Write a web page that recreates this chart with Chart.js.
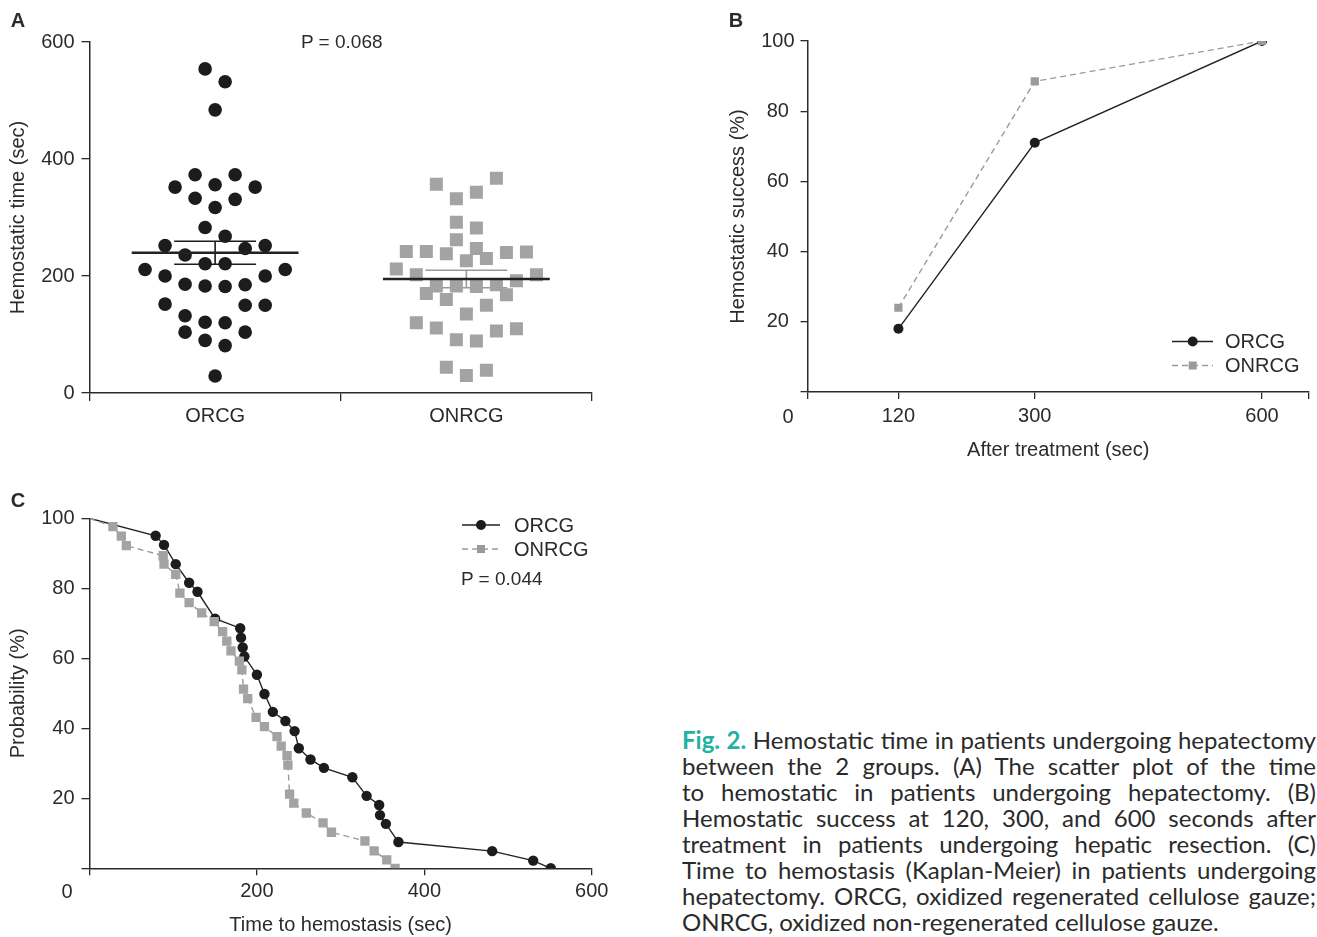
<!DOCTYPE html>
<html><head><meta charset="utf-8">
<script src="https://cdn.jsdelivr.net/npm/chart.js@4.4.1/dist/chart.umd.min.js"></script>
<style>
html,body{margin:0;padding:0;background:#fff;}
body{width:1317px;height:937px;position:relative;overflow:hidden;font-family:"Liberation Sans",Arial,sans-serif;color:#2b2b2b;}
canvas{position:absolute;}
.t{position:absolute;font-size:20px;line-height:24px;white-space:nowrap;transform:translateY(-50%);}
.c{transform:translate(-50%,-50%);}
.letter{font-weight:bold;}
svg{position:absolute;overflow:visible;}
.cap{position:absolute;left:682px;width:640px;height:26px;font-family:Lato,"Open Sans",sans-serif;font-size:22px;line-height:26px;color:#2a2a2a;white-space:nowrap;}
.cap span.w{display:inline-block;}
.fig{color:#22b2a3;font-weight:bold;}
</style></head><body>
<canvas id="cA" width="620" height="450" style="left:0;top:0"></canvas>
<canvas id="cB" width="597" height="470" style="left:720px;top:0"></canvas>
<canvas id="cC" width="620" height="457" style="left:0;top:480px"></canvas>

<div class="t c letter" style="left:18px;top:20px">A</div>
<div class="t c letter" style="left:736px;top:20px">B</div>
<div class="t c letter" style="left:18px;top:500px">C</div>
<div class="t" style="left:301px;top:42px;font-size:19px">P = 0.068</div>
<div class="t c" style="left:788px;top:416px">0</div>
<div class="t c" style="left:67px;top:891px">0</div>

<!-- legend B -->
<svg style="left:1165px;top:330px" width="60" height="50">
  <line x1="7" y1="11.5" x2="48" y2="11.5" stroke="#222" stroke-width="1.4"/>
  <circle cx="27.7" cy="11.5" r="5" fill="#1c1c1c"/>
  <line x1="7" y1="35.5" x2="48" y2="35.5" stroke="#9a9a9a" stroke-width="1.4" stroke-dasharray="6,4"/>
  <rect x="23.7" y="31.5" width="8" height="8" fill="#9a9a9a"/>
</svg>
<div class="t" style="left:1225px;top:341px">ORCG</div>
<div class="t" style="left:1225px;top:365px">ONRCG</div>

<!-- legend C -->
<svg style="left:455px;top:514px" width="60" height="50">
  <line x1="7" y1="11" x2="45" y2="11" stroke="#222" stroke-width="1.4"/>
  <circle cx="26" cy="11" r="5" fill="#1c1c1c"/>
  <line x1="7" y1="35" x2="45" y2="35" stroke="#9a9a9a" stroke-width="1.4" stroke-dasharray="6,4"/>
  <rect x="22" y="31" width="8" height="8" fill="#9a9a9a"/>
</svg>
<div class="t" style="left:514px;top:525px">ORCG</div>
<div class="t" style="left:514px;top:549px">ONRCG</div>
<div class="t" style="left:461px;top:579px;font-size:19px">P = 0.044</div>

<div id="caption"></div>

<script>
// ---------------- DATA ----------------
const groups = ['ORCG', 'ONRCG'];
// Panel A: hemostatic time (sec) per patient, and beeswarm column
const orcgTime = [554,532,484,373,373,352,356,352,333,331,317,283,268,252,252,247,236,221,221,211,211,200,200,186,183,182,185,152,150,150,132,121,120,104,104,90,81,29];
const orcgSlot = [-0.5,0.5,0,-1,1,-2,0,2,-1,1,0,-0.5,0.5,-2.5,2.5,1.5,-1.5,-0.5,0.5,-3.5,3.5,-2.5,2.5,-1.5,-0.5,0.5,1.5,-2.5,1.5,2.5,-1.5,-0.5,0.5,-1.5,1.5,-0.5,0.5,0];
const onrcgTime = [367,357,343,332,292,282,262,242,242,238,247,240,241,226,230,212,202,202,192,183,183,182,185,170,168,160,150,135,120,111,106,110,91,89,44,30,39];
const onrcgSlot = [1.5,-1.5,0.5,-0.5,-0.5,0.5,-0.5,-3,-2,-1,0.5,2,3,0,1,-3.5,-2.5,3.5,2.5,-1.5,-0.5,0.5,1.5,-2,2,-1,1,0,-2.5,-1.5,1.5,2.5,-0.5,0.5,-1,0,1];
const groupMean = [239.8, 194.9];
const groupSem = [19.6, 15.0];
const aTicksY = [0, 200, 400, 600];

// Panel B: hemostatic success (%)
const bTimes = [120, 300, 600];
const bOrcg = [18, 71, 100];
const bOnrcg = [24, 88.5, 100];
const bTicksY = [0, 20, 40, 60, 80, 100];

// Panel C: Kaplan-Meier
const kmOrcgT = [0,79,89,103,119,129,150,180,181,183,185,200,209,219,234,245,250,264,280,314,331,346,347,354,369,481,530,551];
const kmOrcgP = [100,95,92.4,86.9,81.6,79,71.3,68.6,65.9,63.1,60.5,55.3,49.8,44.7,42.1,39.2,34.3,31.1,28.7,26.0,20.7,18.1,15.2,12.7,7.5,4.9,2.2,0];
const kmOnrcgT = [0,28,38,44,88,89,103,108,119,134,149,159,164,169,179,182,184,189,199,209,224,229,236,237,239,244,259,279,289,329,340,355,365];
const kmOnrcgP = [100,97.6,94.9,92.2,89.3,86.9,84.0,78.6,75.9,73.0,70.5,67.6,64.9,62.1,59.2,56.7,51.2,48.5,43.1,40.5,37.6,34.9,32.2,29.5,21.2,18.6,15.8,13.0,10.3,7.8,5.0,2.4,0];
const cTicksX = [0, 200, 400, 600];
const cTicksY = [0, 20, 40, 60, 80, 100];

const captionLines = [
  'Hemostatic time in patients undergoing hepatectomy',
  'between the 2 groups. (A) The scatter plot of the time',
  'to hemostatic in patients undergoing hepatectomy. (B)',
  'Hemostatic success at 120, 300, and 600 seconds after',
  'treatment in patients undergoing hepatic resection. (C)',
  'Time to hemostasis (Kaplan-Meier) in patients undergoing',
  'hepatectomy. ORCG, oxidized regenerated cellulose gauze;',
  'ONRCG, oxidized non-regenerated cellulose gauze.'
];

// ---------------- STYLE ----------------
const INK = '#2b2b2b';
const DARK = '#1c1c1c';
const GREY = '#9a9a9a';
const SQ = '#a3a3a3';
const FONT = {family: '"Liberation Sans", Arial, sans-serif', size: 20, lineHeight: 1.2};
const SLOT = 0.0797;      // beeswarm column width in category units
const MEAN_HALF = 0.332;
const CAP_HALF = 0.163;

function setTicks(vals) { return s => { s.ticks = vals.map(v => ({value: v})); }; }
function gridOpts(len, colorFn) {
  return {drawOnChartArea: false, drawTicks: true, tickLength: len, color: colorFn || INK, lineWidth: 1.3};
}
const border = {display: true, color: INK, width: 1.5};
const base = {responsive: false, animation: false, events: [],
  plugins: {legend: {display: false}, tooltip: {enabled: false}}};

// ---------------- PANEL A ----------------
const dsA = [];
groups.forEach((g, gi) => {
  const c = gi + 0.5, m = groupMean[gi], s = groupSem[gi];
  const ec = gi === 0 ? DARK : GREY;
  dsA.push({data: [{x: c - MEAN_HALF, y: m}, {x: c + MEAN_HALF, y: m}], showLine: true,
    borderColor: '#222', borderWidth: 2.4, pointRadius: 0, order: 0});
  [[{x: c, y: m - s}, {x: c, y: m + s}],
   [{x: c - CAP_HALF, y: m + s}, {x: c + CAP_HALF, y: m + s}],
   [{x: c - CAP_HALF, y: m - s}, {x: c + CAP_HALF, y: m - s}]].forEach(seg => {
    dsA.push({data: seg, showLine: true, borderColor: ec, borderWidth: 1.6, pointRadius: 0, order: 3});
  });
});
dsA.push({label: 'ORCG', data: orcgTime.map((v, i) => ({x: 0.5 + orcgSlot[i] * SLOT, y: v})),
  pointStyle: 'circle', pointRadius: 6.8, backgroundColor: DARK, borderWidth: 0, order: 1});
dsA.push({label: 'ONRCG', data: onrcgTime.map((v, i) => ({x: 1.5 + onrcgSlot[i] * SLOT, y: v})),
  pointStyle: 'rect', pointRadius: 9.2, backgroundColor: SQ, borderWidth: 0, order: 2});

new Chart(document.getElementById('cA'), {
  type: 'scatter',
  data: {datasets: dsA},
  options: Object.assign({}, base, {
    layout: {padding: {left: 0, right: 28, top: 42, bottom: 0}},
    scales: {
      x: {type: 'linear', min: 0, max: 2,
        afterBuildTicks: setTicks([0, 0.5, 1, 1.5, 2]),
        ticks: {autoSkip: false, maxRotation: 0, font: FONT, color: INK, padding: 3,
          callback: v => (v % 1 === 0.5 ? groups[Math.floor(v)] : '')},
        grid: gridOpts(8, c => (c.tick && c.tick.value % 1 === 0.5) ? 'rgba(0,0,0,0)' : INK),
        border: border,
        afterFit: s => { s.height = 57; }},
      y: {min: 0, max: 600,
        afterBuildTicks: setTicks(aTicksY),
        ticks: {font: FONT, color: INK, padding: 7},
        grid: gridOpts(8),
        border: border,
        title: {display: true, text: 'Hemostatic time (sec)', font: FONT, color: INK, padding: {top: 6, bottom: 0}},
        afterFit: s => { s.width = 89.5; }}
    }
  })
});

// ---------------- PANEL B ----------------
new Chart(document.getElementById('cB'), {
  type: 'scatter',
  data: {datasets: [
    {label: 'ONRCG', data: bTimes.map((t, i) => ({x: t, y: bOnrcg[i]})), showLine: true,
      borderColor: GREY, borderWidth: 1.4, borderDash: [6, 4], pointStyle: 'rect', pointRadius: 5.8,
      backgroundColor: GREY, pointBorderWidth: 0, order: 0},
    {label: 'ORCG', data: bTimes.map((t, i) => ({x: t, y: bOrcg[i]})), showLine: true,
      borderColor: '#222', borderWidth: 1.4, pointStyle: 'circle', pointRadius: 5,
      backgroundColor: DARK, pointBorderWidth: 0, order: 1}
  ]},
  options: Object.assign({}, base, {
    layout: {padding: {left: 0, right: 8, top: 41, bottom: 0}},
    scales: {
      x: {type: 'linear', min: 0, max: 662,
        afterBuildTicks: setTicks([0].concat(bTimes, [662])),
        ticks: {autoSkip: false, maxRotation: 0, font: FONT, color: INK, padding: 5,
          callback: v => (bTimes.includes(v) ? String(v) : '')},
        grid: gridOpts(7),
        border: border,
        title: {display: true, text: 'After treatment (sec)', font: FONT, color: INK, padding: {top: 0, bottom: 8}},
        afterFit: s => { s.height = 78; }},
      y: {min: 0, max: 100,
        afterBuildTicks: setTicks(bTicksY),
        ticks: {font: FONT, color: INK, padding: 6, crossAlign: 'center',
          callback: v => (v === 0 ? '' : String(v))},
        grid: gridOpts(7),
        border: border,
        title: {display: true, text: 'Hemostatic success (%)', font: FONT, color: INK, padding: {top: 6, bottom: 0}},
        afterFit: s => { s.width = 87.5; }}
    }
  })
});

// ---------------- PANEL C ----------------
const noFirst = r => ctx => (ctx.dataIndex === 0 ? 0 : r);
new Chart(document.getElementById('cC'), {
  type: 'scatter',
  data: {datasets: [
    {label: 'ONRCG', data: kmOnrcgT.map((t, i) => ({x: t, y: kmOnrcgP[i]})), showLine: true,
      borderColor: GREY, borderWidth: 1.4, borderDash: [6, 4], pointStyle: 'rect', pointRadius: noFirst(6.6),
      backgroundColor: SQ, pointBorderWidth: 0, order: 0},
    {label: 'ORCG', data: kmOrcgT.map((t, i) => ({x: t, y: kmOrcgP[i]})), showLine: true,
      borderColor: '#222', borderWidth: 1.4, pointStyle: 'circle', pointRadius: noFirst(5.2),
      backgroundColor: DARK, pointBorderWidth: 0, order: 1}
  ]},
  options: Object.assign({}, base, {
    layout: {padding: {left: 0, right: 28.2, top: 38.3, bottom: 0}},
    scales: {
      x: {type: 'linear', min: 0, max: 600,
        afterBuildTicks: setTicks(cTicksX),
        ticks: {autoSkip: false, maxRotation: 0, font: FONT, color: INK, padding: 4,
          callback: v => (v === 0 ? '' : String(v))},
        grid: gridOpts(7),
        border: border,
        title: {display: true, text: 'Time to hemostasis (sec)', font: FONT, color: INK, padding: {top: 0, bottom: 0}},
        afterFit: s => { s.height = 68.7; }},
      y: {min: 0, max: 100,
        afterBuildTicks: setTicks(cTicksY),
        ticks: {font: FONT, color: INK, padding: 7,
          callback: v => (v === 0 ? '' : String(v))},
        grid: gridOpts(8),
        border: border,
        title: {display: true, text: 'Probability (%)', font: FONT, color: INK, padding: {top: 6, bottom: 0}},
        afterFit: s => { s.width = 89.5; }}
    }
  })
});

// ---------------- CAPTION ----------------
const cap = document.getElementById('caption');
captionLines.forEach((txt, i) => {
  const d = document.createElement('div');
  d.className = 'cap';
  d.style.top = (727 + i * 26) + 'px';
  const sp = document.createElement('span');
  sp.className = 'w';
  if (i === 0) {
    const f = document.createElement('span');
    f.className = 'fig';
    f.textContent = 'Fig. 2.';
    sp.appendChild(f);
    sp.appendChild(document.createTextNode(' ' + txt));
  } else {
    sp.textContent = txt;
  }
  d.appendChild(sp);
  cap.appendChild(d);
});
const TARGET = 634;
const justify = () => {
  const lines = Array.from(cap.querySelectorAll('.cap span.w'));
  const rows = Array.from(cap.querySelectorAll('.cap'));
  rows.forEach(r => { r.style.fontSize = '22px'; });
  lines.forEach(sp => { sp.style.wordSpacing = '0px'; });
  let maxW = 0;
  lines.forEach((sp, i) => { if (i < lines.length - 1) maxW = Math.max(maxW, sp.getBoundingClientRect().width); });
  const fs = Math.min(26, 22 * (TARGET - 4) / maxW);
  rows.forEach(r => { r.style.fontSize = fs + 'px'; });
  lines.forEach((sp, i) => {
    if (i === lines.length - 1) return;
    const w = sp.getBoundingClientRect().width;
    const n = (sp.textContent.match(/ /g) || []).length;
    if (n) sp.style.wordSpacing = ((TARGET - w) / n) + 'px';
  });
};
justify();
if (document.fonts && document.fonts.ready) document.fonts.ready.then(justify);
</script>
</body></html>
